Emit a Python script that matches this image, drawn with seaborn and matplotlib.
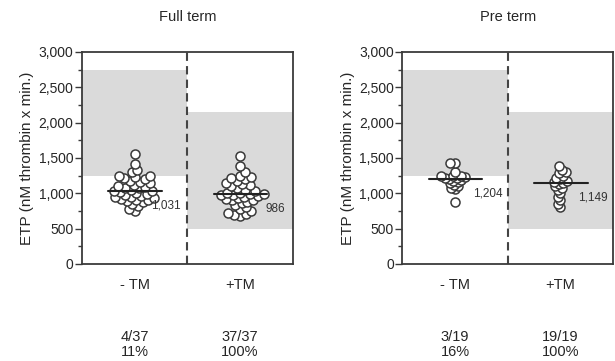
import numpy as np
import pandas as pd
import matplotlib
matplotlib.use('Agg')
import matplotlib.pyplot as plt
import seaborn as sns
from matplotlib.ticker import MultipleLocator, FuncFormatter

sns.set_style('ticks')
plt.rcParams['font.family'] = ['Liberation Sans Narrow', 'Liberation Sans', 'DejaVu Sans']

groups = ['- TM', '+TM']
panels = ['Full term', 'Pre term']

ft_minus = [750, 780, 820, 850, 870, 890, 900, 910, 920, 930, 940, 950, 960, 980, 990,
            1000, 1020, 1025, 1031, 1050, 1070, 1080, 1090, 1100, 1120, 1140, 1160, 1180,
            1200, 1210, 1230, 1240, 1245, 1300, 1330, 1420, 1550]
ft_plus = [680, 690, 700, 720, 750, 780, 800, 830, 860, 880, 900, 910, 920, 930, 950,
           960, 970, 980, 986, 990, 1000, 1010, 1030, 1050, 1080, 1100, 1110, 1130, 1150,
           1180, 1200, 1210, 1230, 1250, 1300, 1380, 1530]
pt_minus = [880, 1060, 1080, 1100, 1120, 1140, 1160, 1180, 1190, 1204, 1210, 1220, 1230,
            1240, 1245, 1250, 1300, 1430, 1430]
pt_plus = [800, 850, 900, 950, 1000, 1050, 1080, 1100, 1130, 1149, 1160, 1180, 1200,
           1220, 1250, 1280, 1300, 1330, 1380]

medians = {'Full term': [1031, 986], 'Pre term': [1204, 1149]}
median_labels = {'Full term': ['1,031', '986'], 'Pre term': ['1,204', '1,149']}
ref_low = [1250, 500]
ref_high = [2750, 2150]
in_range = {'Full term': ['4/37\n11%', '37/37\n100%'], 'Pre term': ['3/19\n16%', '19/19\n100%']}

data = {'Full term': [ft_minus, ft_plus], 'Pre term': [pt_minus, pt_plus]}
# marker size used only to lay out the swarm (circles overlap in the original)
layout_size = {'Full term': 3.1, 'Pre term': 2.0}
label_dx = {'Full term': [0.16, 0.24], 'Pre term': [0.17, 0.17]}

fig = plt.figure(figsize=(6.15, 3.61), dpi=100)
axes = [fig.add_axes([0.133, 0.269, 0.343, 0.587]),
        fig.add_axes([0.654, 0.269, 0.343, 0.587])]

edge = '#3a3a3a'
swarms = []
for ax, panel in zip(axes, panels):
    rows = []
    for g, vals in zip(groups, data[panel]):
        for v in vals:
            rows.append({'group': g, 'etp': v})
    df = pd.DataFrame(rows)

    for i in range(2):
        ax.fill_between([i - 0.5, i + 0.5], ref_low[i], ref_high[i],
                        color='#dadada', lw=0, zorder=0)

    sns.swarmplot(data=df, x='group', y='etp', order=groups, ax=ax,
                  size=layout_size[panel], color='white', edgecolor=edge,
                  linewidth=1.1, zorder=3)
    swarms += list(ax.collections[2:])

    for i in range(2):
        m = medians[panel][i]
        ax.plot([i - 0.25, i + 0.26], [m, m], color='#222222', lw=1.5, zorder=4)
        ax.annotate(median_labels[panel][i], (i + label_dx[panel][i], m), xytext=(0, -6),
                    textcoords='offset points', ha='left', va='top',
                    fontsize=8.5, color='#333333', zorder=5)

    ax.axvline(0.5, color='#444444', lw=1.5, ls=(0, (4, 2.5)), zorder=2)

    ax.set_xlim(-0.5, 1.5)
    ax.set_ylim(0, 3000)
    ax.yaxis.set_major_locator(MultipleLocator(500))
    ax.yaxis.set_minor_locator(MultipleLocator(250))
    ax.yaxis.set_major_formatter(FuncFormatter(lambda v, p: f'{int(v):,}'))
    ax.tick_params(axis='y', which='major', length=5, width=1, color=edge,
                   labelsize=10, pad=1)
    ax.tick_params(axis='y', which='minor', length=3, width=1, color=edge)
    ax.tick_params(axis='x', length=0, labelsize=10.5, pad=10)
    ax.set_xlabel('')
    ax.set_ylabel('ETP (nM thrombin x min.)', fontsize=11, labelpad=3)
    for s in ax.spines.values():
        s.set_color(edge)
        s.set_linewidth(1.3)
    ax.set_title(panel, fontsize=10.5, pad=22)

    for i in range(2):
        ax.text(i, -0.31, in_range[panel][i], transform=ax.get_xaxis_transform(),
                ha='center', va='top', fontsize=10.5, linespacing=1.1)

# lay out the swarm with small markers, then freeze it and enlarge the circles
fig.canvas.draw()
for coll in swarms:
    if 'draw' in coll.__dict__:
        del coll.draw
    coll.set_sizes([6.5 ** 2])

fig.savefig('out.png', dpi=100)
